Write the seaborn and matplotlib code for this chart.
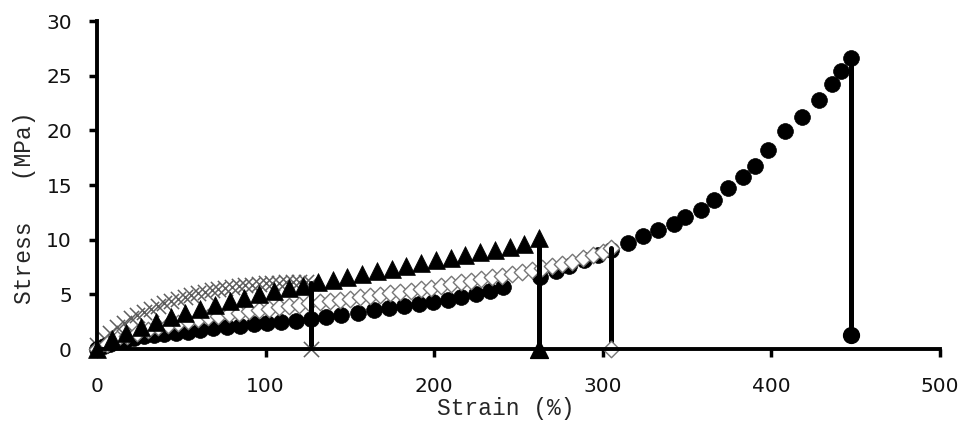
import matplotlib
matplotlib.use("Agg")
import matplotlib.pyplot as plt
import seaborn as sns
import pandas as pd

# ---- data ----
cross_x = [0, 4, 8, 12, 16, 20, 24, 28, 32, 36, 40, 44, 48, 52, 56, 60, 64, 68, 72,
           76, 80, 84, 88, 92, 96, 100, 104, 108, 112, 116, 120, 124, 127]
cross_y = [0.4, 1.0, 1.5, 2.0, 2.4, 2.8, 3.1, 3.4, 3.7, 3.95, 4.2, 4.4, 4.6, 4.8, 4.95,
           5.1, 5.25, 5.4, 5.5, 5.6, 5.7, 5.8, 5.85, 5.9, 5.95, 6.0, 6.05, 6.05, 6.1,
           6.1, 6.1, 6.1, 6.0]
cross_end = (127, 0.0)

tri_x = [0, 9, 17, 26, 35, 44, 52, 61, 70, 79, 87, 96, 105, 114, 122, 131, 140, 148,
         157, 166, 175, 183, 192, 201, 210, 218, 227, 236, 245, 253, 262]
tri_y = [0, 0.9, 1.5, 2.0, 2.5, 2.9, 3.3, 3.7, 4.0, 4.4, 4.7, 5.0, 5.3, 5.6, 5.8, 6.1,
         6.35, 6.6, 6.85, 7.1, 7.35, 7.6, 7.85, 8.1, 8.35, 8.6, 8.85, 9.1, 9.35, 9.6, 10.2]
tri_end = (262, 0.0)

dia_x = [0, 6, 12, 18, 24, 30, 36, 42, 48, 54, 60, 66, 72, 78, 84, 90, 96, 102, 108,
         114, 120, 126, 132, 138, 144, 150, 156, 162, 168, 174, 180, 186, 192, 198, 204,
         210, 216, 222, 228, 234, 240, 246, 252, 258, 264, 270, 276, 282, 288, 294, 300, 305]
dia_y = [0, 0.5, 0.9, 1.2, 1.5, 1.75, 2.0, 2.2, 2.4, 2.6, 2.75, 2.9, 3.05, 3.2, 3.3,
         3.45, 3.55, 3.7, 3.8, 3.9, 4.05, 4.2, 4.3, 4.4, 4.5, 4.6, 4.75, 4.85, 4.95, 5.1,
         5.2, 5.35, 5.5, 5.6, 5.8, 5.95, 6.1, 6.25, 6.4, 6.55, 6.7, 6.85, 7.0, 7.2, 7.4,
         7.6, 7.8, 8.0, 8.3, 8.6, 8.9, 9.2]
dia_end = (305, 0.0)

circ_x = [0, 4, 8, 12, 17, 22, 28, 34, 40, 47, 54, 61, 69, 77, 85, 93, 101, 109, 118,
          127, 136, 145, 155, 164, 173, 182, 191, 199, 208, 216, 225, 233, 241,
          263, 272, 280, 289, 297, 305, 315, 324, 333, 342, 349, 358, 366, 374, 383,
          390, 398, 408, 418, 428, 436, 441, 447]
circ_y = [0, 0.3, 0.5, 0.7, 0.85, 1.0, 1.15, 1.3, 1.4, 1.5, 1.6, 1.75, 1.9, 2.0, 2.1,
          2.25, 2.35, 2.45, 2.6, 2.75, 2.9, 3.1, 3.3, 3.55, 3.75, 3.95, 4.1, 4.3, 4.5,
          4.75, 5.0, 5.3, 5.7,
          6.6, 7.1, 7.6, 8.1, 8.6, 9.1, 9.7, 10.3, 10.9, 11.4, 12.1, 12.7, 13.6, 14.7,
          15.7, 16.7, 18.2, 19.9, 21.2, 22.8, 24.2, 25.4, 26.6]
circ_end = (447, 1.3)

x_ticks = [0, 100, 200, 300, 400, 500]
y_ticks = [0, 5, 10, 15, 20, 25, 30]

# ---- figure ----
sns.set_style("ticks")
plt.rcParams['font.family'] = ['DejaVu Sans']

fig = plt.figure(figsize=(9.68, 4.21), dpi=100)
ax = fig.add_axes([0.1002, 0.171, 0.8709, 0.779])

gray = "#5e5e5e"
sizes = {"x": 120, "^": 165, "D": 70, "o": 130}

def df(xs, ys):
    return pd.DataFrame({"x": xs, "y": ys})

# cross series
sns.scatterplot(data=df(cross_x, cross_y), x="x", y="y", marker="x", s=sizes["x"],
                color=gray, linewidth=1.1, ax=ax, zorder=2)
# circles
sns.scatterplot(data=df(circ_x, circ_y), x="x", y="y", marker="o", s=sizes["o"],
                color="black", edgecolor="black", linewidth=0.5, ax=ax, zorder=3)
# diamonds
sns.scatterplot(data=df(dia_x, dia_y), x="x", y="y", marker="D", s=sizes["D"],
                facecolor="white", edgecolor="#777777", linewidth=1.0, ax=ax, zorder=4)
# triangles
sns.scatterplot(data=df(tri_x, tri_y), x="x", y="y", marker="^", s=sizes["^"],
                color="black", edgecolor="black", linewidth=0.5, ax=ax, zorder=5)

# drop (failure) lines with end markers
series = [
    (cross_x, cross_y, cross_end, "x", gray, gray),
    (tri_x, tri_y, tri_end, "^", "black", "black"),
    (dia_x, dia_y, dia_end, "D", "white", "#777777"),
    (circ_x, circ_y, circ_end, "o", "black", "black"),
]
for xs, ys, end, mk, fc, ec in series:
    seg = df([xs[-1], end[0]], [ys[-1], end[1]])
    sns.lineplot(data=seg, x="x", y="y", sort=False, estimator=None,
                 color="black", linewidth=3.6, ax=ax, zorder=6)
    if mk == "x":
        sns.scatterplot(data=df([end[0]], [end[1]]), x="x", y="y", marker=mk,
                        s=sizes[mk], color=ec, linewidth=1.1, ax=ax, zorder=7)
    else:
        sns.scatterplot(data=df([end[0]], [end[1]]), x="x", y="y", marker=mk,
                        s=sizes[mk], facecolor=fc, edgecolor=ec,
                        linewidth=1.0, ax=ax, zorder=7)

ax.set_xlim(0, 500)
ax.set_ylim(0, 30)
ax.set_xticks(x_ticks)
ax.set_yticks(y_ticks)
ax.tick_params(axis="both", direction="out", length=6, width=2.5, colors="black",
               labelsize=14.5, labelcolor="#111111")
ax.tick_params(axis="x", pad=14)
ax.tick_params(axis="y", pad=12)
for side in ["top", "right"]:
    ax.spines[side].set_visible(False)
for side in ["left", "bottom"]:
    ax.spines[side].set_linewidth(2.8)
    ax.spines[side].set_color("black")
    ax.spines[side].set_zorder(10)

ax.set_xlabel("Strain (%)", family="Liberation Mono", fontsize=16.5)
ax.set_ylabel("Stress   (MPa)", family="Liberation Mono", fontsize=16.5)
ax.xaxis.set_label_coords(0.485, -0.146)
ax.yaxis.set_label_coords(-0.072, 0.43)
for coll in ax.collections:
    coll.set_clip_on(False)

fig.savefig("out.png", dpi=100)
